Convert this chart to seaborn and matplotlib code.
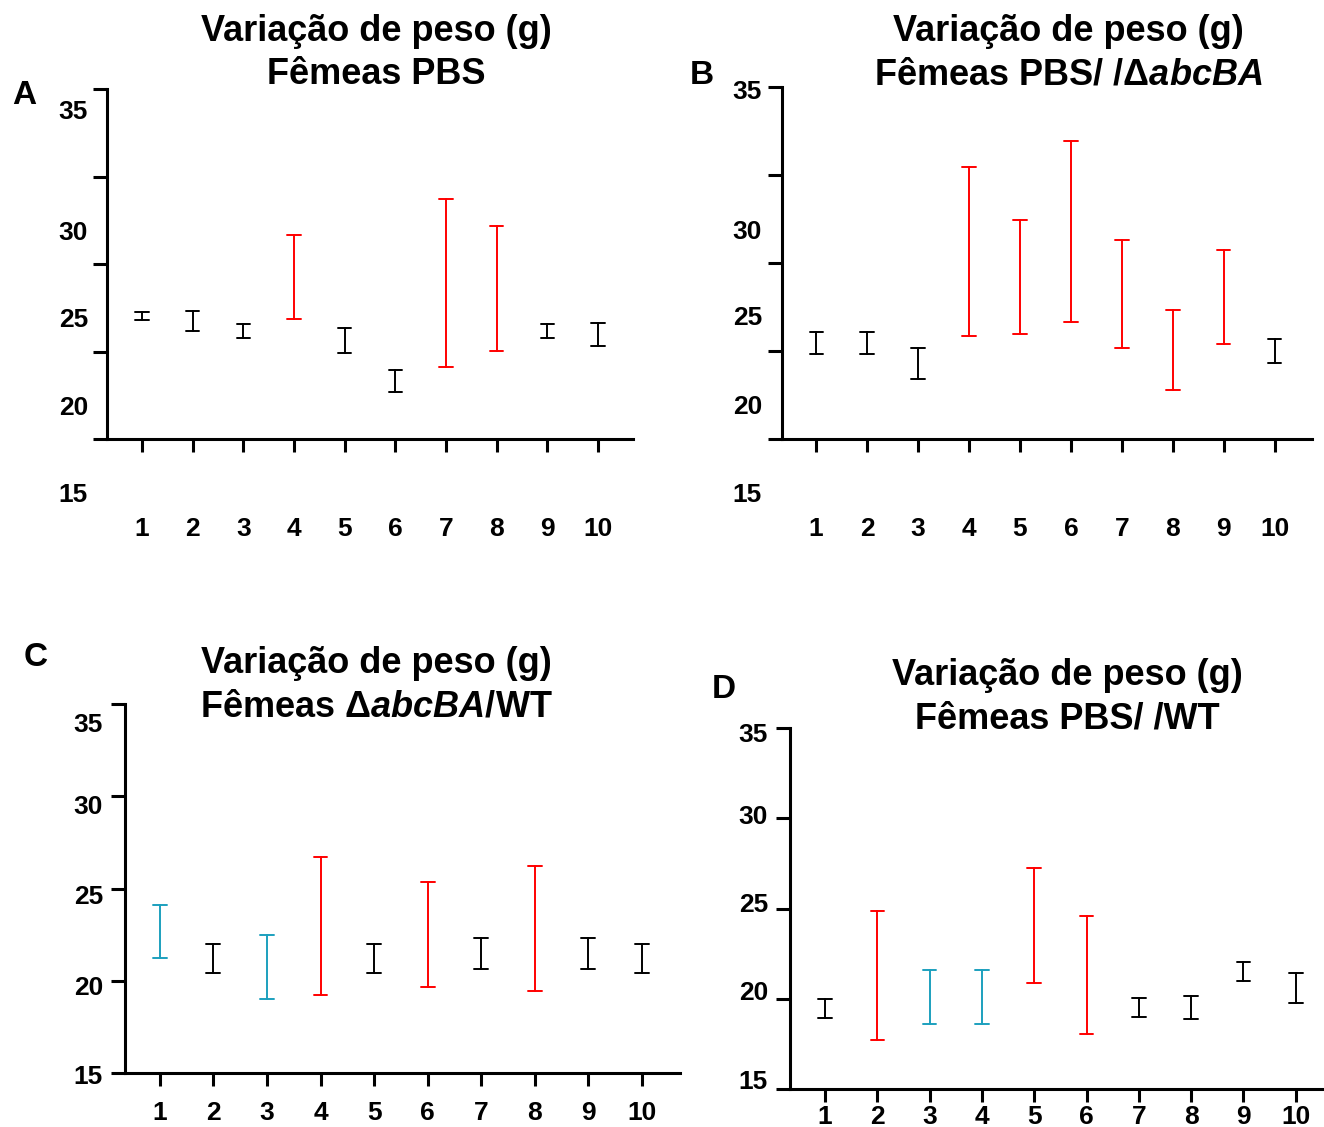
import matplotlib
matplotlib.use("Agg")
import matplotlib.pyplot as plt
import matplotlib.transforms as mtransforms
import seaborn as sns
import pandas as pd

# dias (eixo x)
days = ["1", "2", "3", "4", "5", "6", "7", "8", "9", "10"]
yticks = [15, 20, 25, 30, 35]
ytick_labels = ["15", "20", "25", "30", "35"]

# A - Femeas PBS (min / max)
a_low = [21.80, 21.19, 20.75, 21.84, 19.90, 17.67, 19.13, 20.05, 20.75, 20.31]
a_high = [22.27, 22.33, 21.57, 26.64, 21.36, 18.94, 28.70, 27.20, 21.57, 21.65]
a_colors = ["k", "k", "k", "r", "k", "k", "r", "r", "k", "k"]

# B - Femeas PBS/ /abcBA
b_low = [19.83, 19.83, 18.39, 20.85, 20.97, 21.65, 20.19, 17.78, 20.38, 19.34]
b_high = [21.10, 21.10, 20.15, 30.44, 27.43, 31.93, 26.31, 22.33, 25.74, 20.66]
b_colors = ["k", "k", "k", "r", "r", "r", "r", "r", "r", "k"]

# C - Femeas abcBA/WT
c_low = [21.25, 20.44, 19.01, 19.23, 20.44, 19.64, 20.65, 19.44, 20.65, 20.44]
c_high = [24.11, 21.99, 22.48, 26.69, 21.99, 25.34, 22.33, 26.22, 22.33, 21.99]
c_colors = ["c", "k", "c", "r", "k", "r", "k", "r", "k", "k"]

# D - Femeas PBS/ /WT
d_low = [18.95, 17.71, 18.60, 18.60, 20.86, 18.03, 19.01, 18.86, 21.00, 19.75]
d_high = [19.97, 24.88, 21.59, 21.59, 27.23, 24.60, 20.02, 20.15, 22.02, 21.41]
d_colors = ["k", "r", "c", "c", "r", "r", "k", "k", "k", "k"]

COLOR_MAP = {"k": "#000000", "r": "#FF0000", "c": "#1CA0BE"}
W, H = 1324, 1127

sns.set_style("ticks")
plt.rcParams["font.family"] = ["Liberation Sans", "DejaVu Sans"]
plt.rcParams["font.weight"] = "bold"
plt.rcParams["text.color"] = "black"
plt.rcParams["axes.edgecolor"] = "black"
plt.rcParams["xtick.color"] = "black"
plt.rcParams["ytick.color"] = "black"
plt.rcParams["mathtext.fontset"] = "custom"
plt.rcParams["mathtext.rm"] = "Liberation Sans:bold"
plt.rcParams["mathtext.bf"] = "Liberation Sans:bold"
plt.rcParams["mathtext.it"] = "Liberation Sans:italic:bold"

fig = plt.figure(figsize=(W / 100, H / 100), dpi=100)

# rotulos do eixo y ficaram deslocados na figura original (A e B)
panels = [
    dict(low=a_low, high=a_high, colors=a_colors, box=(107, 89, 633, 439), xlim=(-0.69, 9.69),
         ylab_pos=[11.8, 16.77, 21.8, 26.77, 33.69], ylab_off=13.7, xpad=47,
         title="Variação de peso (g)\nFêmeas PBS", tpos=(376, 53), letter="A", lpos=(24, 96)),
    dict(low=b_low, high=b_high, colors=b_colors, box=(782, 87, 1312, 439), xlim=(-0.67, 9.73),
         ylab_pos=[11.82, 16.82, 21.88, 26.76, 34.72], ylab_off=14.4, xpad=47,
         title="Variação de peso (g)\nFêmeas PBS/ /Δ$\\mathit{abcBA}$", tpos=(1068, 53),
         letter="B", lpos=(702, 75)),
    dict(low=c_low, high=c_high, colors=c_colors, box=(125, 704, 680, 1073), xlim=(-0.65, 9.71),
         ylab_pos=[14.78, 19.61, 24.54, 29.42, 33.86], ylab_off=15.8, xpad=11,
         title="Variação de peso (g)\nFêmeas Δ$\\mathit{abcBA/}$WT", tpos=(376, 685),
         letter="C", lpos=(36, 657)),
    dict(low=d_low, high=d_high, colors=d_colors, box=(790, 728, 1323, 1089), xlim=(-0.67, 9.52),
         ylab_pos=[15.39, 20.32, 25.19, 30.07, 34.61], ylab_off=15.8, xpad=2,
         title="Variação de peso (g)\nFêmeas PBS/ /WT", tpos=(1067, 697),
         letter="D", lpos=(724, 690)),
]

for p in panels:
    x0, y0, x1, y1 = p["box"]
    ax = fig.add_axes([x0 / W, 1 - y1 / H, (x1 - x0) / W, (y1 - y0) / H])

    df = pd.DataFrame({
        "dia": days * 2,
        "peso": list(p["low"]) + list(p["high"]),
    })
    palette = [COLOR_MAP[c] for c in p["colors"]]

    sns.pointplot(data=df, x="dia", y="peso", hue="dia", order=days, hue_order=days,
                  palette=palette, errorbar=("pi", 100), capsize=0.26, markers="_",
                  linestyle="none", markersize=3, markeredgewidth=1.2,
                  markeredgecolor="white", err_kws={"linewidth": 1.4},
                  legend=False, dodge=False, zorder=5, ax=ax)

    ax.set_xlim(*p["xlim"])
    ax.set_ylim(15, 35)
    ax.set_yticks(yticks)
    ax.set_yticklabels([])
    ax.set_xlabel("")
    ax.set_ylabel("")
    sns.despine(ax=ax)
    for s in ["left", "bottom"]:
        ax.spines[s].set_linewidth(2.2)
    ax.tick_params(axis="y", length=10, width=2.2)
    ax.tick_params(axis="x", length=9.5, width=2.2, pad=p["xpad"], labelsize=19)

    trans = mtransforms.offset_copy(ax.get_yaxis_transform(), fig=fig, x=-p["ylab_off"], units="points")
    for lab, pos in zip(ytick_labels, p["ylab_pos"]):
        ax.text(0, pos, lab, transform=trans, ha="right", va="center", fontsize=19,
                fontweight="bold", clip_on=False)

    fig.text(p["tpos"][0] / W, 1 - p["tpos"][1] / H, p["title"], ha="center", va="center",
             multialignment="center", fontsize=26, fontweight="bold", linespacing=1.3)
    fig.text(p["lpos"][0] / W, 1 - p["lpos"][1] / H, p["letter"], ha="center", va="center",
             fontsize=24, fontweight="bold")

fig.savefig("out.png", dpi=100)
